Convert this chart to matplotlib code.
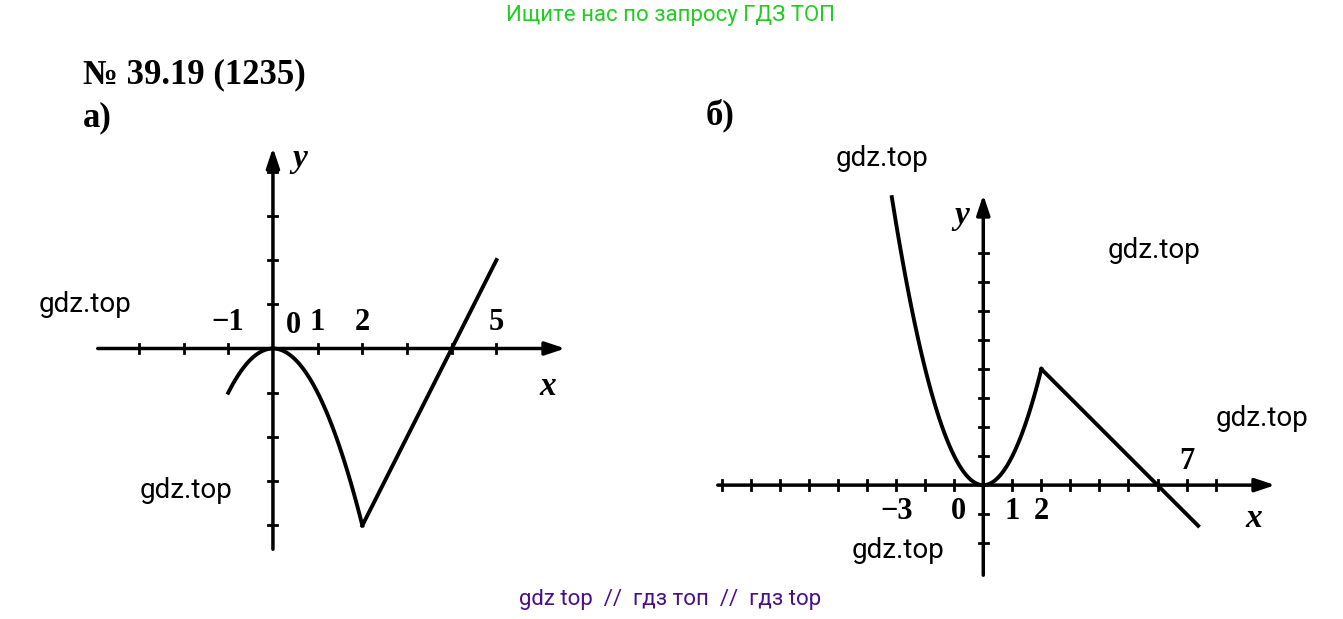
import matplotlib.pyplot as plt
import numpy as np

# graph a): y = -x^2 on [-1, 2], then y = 2x - 8 on [2, 5]
a_parab_x = np.linspace(-1, 2, 60)
a_line_x = [2, 5]
a_xticks = [-3, -2, -1, 1, 2, 3, 4, 5]
a_yticks = [-4, -3, -2, -1, 1, 2, 3, 4]
a_xlabels = {-1: '\u22121', 1: '1', 2: '2', 5: '5'}

# graph b): y = x^2 on [-3.15, 2], then y = 6 - x on [2, 7.4]
b_parab_x = np.linspace(-3.15, 2, 80)
b_line_x = [2, 7.4]
b_xticks = [-9, -8, -7, -6, -5, -4, -3, -2, -1, 1, 2, 3, 4, 5, 6, 7, 8]
b_yticks = [-2, -1, 1, 2, 3, 4, 5, 6, 7, 8]
b_xlabels = {-3: '\u22123', 1: '1', 2: '2', 7: '7'}

W, H = 1343, 619
fig = plt.figure(figsize=(W / 100, H / 100), dpi=100)
serif = 'Liberation Serif'


def px_axes(x0, y_top, x1, y_bot):
    return fig.add_axes([x0 / W, 1 - y_bot / H, (x1 - x0) / W, (y_bot - y_top) / H])


def draw_axes(ax, xlim, ylim, xticks, yticks, tl):
    ax.set_xlim(*xlim)
    ax.set_ylim(*ylim)
    ax.axis('off')
    ax.annotate('', xy=(xlim[1], 0), xytext=(xlim[0], 0),
                arrowprops=dict(arrowstyle='-|>,head_length=1.2,head_width=0.4', color='black', lw=2.5))
    ax.annotate('', xy=(0, ylim[1]), xytext=(0, ylim[0]),
                arrowprops=dict(arrowstyle='-|>,head_length=1.2,head_width=0.4', color='black', lw=2.5))
    for t in xticks:
        ax.plot([t, t], [-tl[1], tl[1]], color='black', lw=2)
    for t in yticks:
        ax.plot([-tl[0], tl[0]], [t, t], color='black', lw=2)


# a)
ax1 = px_axes(95, 145, 568, 552)
draw_axes(ax1, (-3.98, 6.6), (-4.6, 4.6), a_xticks, a_yticks, (0.1, 0.1))
ax1.plot(a_parab_x, -a_parab_x ** 2, color='black', lw=2.8)
ax1.plot(a_line_x, [2 * x - 8 for x in a_line_x], color='black', lw=2.8)
for x, s in a_xlabels.items():
    ax1.text(x, 0.25, s, ha='center', va='bottom', fontsize=22, fontweight='bold', family=serif)
ax1.text(0.45, 0.2, '0', ha='center', va='bottom', fontsize=22, fontweight='bold', family=serif)
ax1.text(0.6, 4.1, 'y', fontsize=24, style='italic', fontweight='bold', family=serif, ha='center')
ax1.text(6.15, -0.5, 'x', fontsize=24, style='italic', fontweight='bold', family=serif, ha='center', va='top')

# b)
ax2 = px_axes(715, 192, 1278, 578)
draw_axes(ax2, (-9.24, 10.15), (-3.2, 10.1), b_xticks, b_yticks, (0.16, 0.16))
ax2.plot(b_parab_x, b_parab_x ** 2, color='black', lw=2.8)
ax2.plot(b_line_x, [6 - x for x in b_line_x], color='black', lw=2.8)
for x, s in b_xlabels.items():
    ax2.text(x, -0.4 if x != 7 else 0.3, s, ha='center', va='top' if x != 7 else 'bottom',
             fontsize=22, fontweight='bold', family=serif)
ax2.text(-0.85, -0.4, '0', ha='center', va='top', fontsize=22, fontweight='bold', family=serif)
ax2.text(-0.75, 9.0, 'y', fontsize=24, style='italic', fontweight='bold', family=serif, ha='center')
ax2.text(9.3, -0.6, 'x', fontsize=24, style='italic', fontweight='bold', family=serif, ha='center', va='top')

# page texts
fig.text(670 / W, 1 - 15 / H, 'Ищите нас по запросу ГДЗ ТОП', color='#22cc22', fontsize=16,
         ha='center', va='center', family='Roboto')
fig.text(83 / W, 1 - 75 / H, '№ 39.19 (1235)', fontsize=25, fontweight='bold', family=serif, va='center')
fig.text(83 / W, 1 - 118 / H, 'а)', fontsize=25, fontweight='bold', family=serif, va='center')
fig.text(706 / W, 1 - 115 / H, 'б)', fontsize=25, fontweight='bold', family=serif, va='center')
for x, y in [(882, 158), (85, 305), (186, 490), (1154, 250), (1262, 418), (898, 550)]:
    fig.text(x / W, 1 - y / H, 'gdz.top', fontsize=20, ha='center', va='center', family='Roboto')
fig.text(670 / W, 1 - 600 / H, 'gdz top  //  гдз топ  //  гдз top', color='#4b0f8c', fontsize=16,
         ha='center', va='center', family='Roboto')

fig.savefig('out.png', dpi=100)
